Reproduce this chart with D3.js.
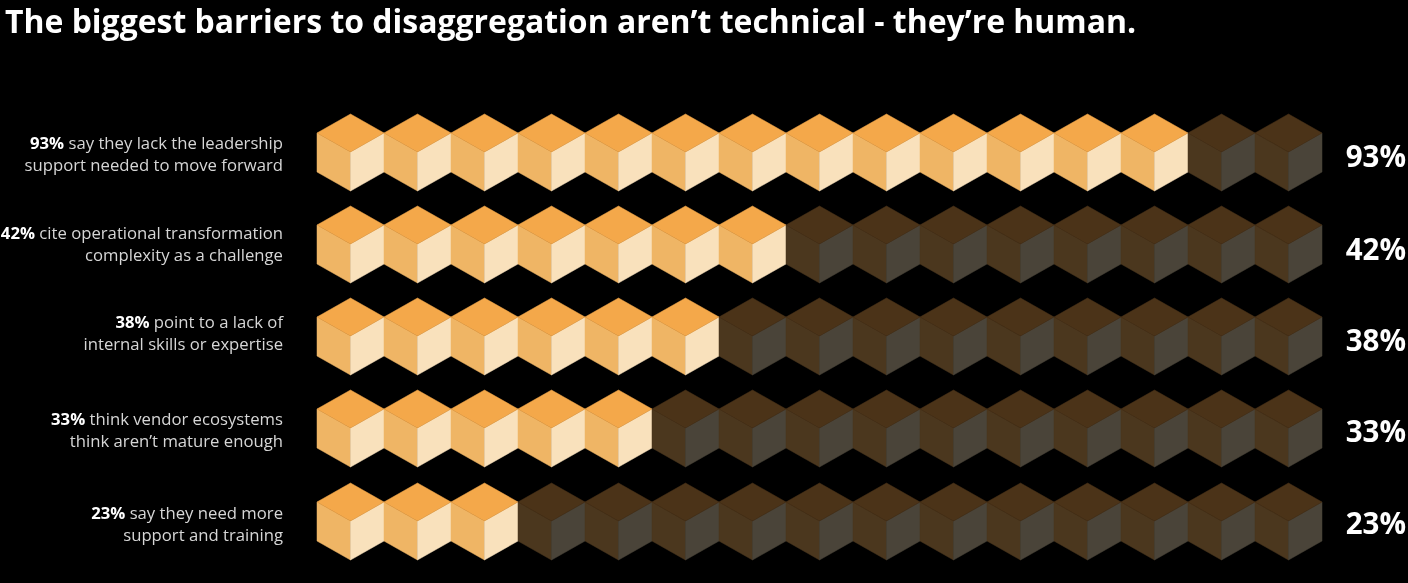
<!DOCTYPE html>
<html>
<head>
  <meta charset="utf-8">
  <script src="https://d3js.org/d3.v7.min.js"></script>
  <style>
    html, body { margin: 0; padding: 0; background: #000; overflow: hidden; }
    text { font-family: "Open Sans", sans-serif; }
    svg { filter: blur(0.45px); }
  </style>
</head>
<body>
  <script>
    // values
    var titleText = "The biggest barriers to disaggregation aren\u2019t technical - they\u2019re human.";
    var percents = [93, 42, 38, 33, 23];
    var filledCubes = [13, 7, 6, 5, 3];
    var firstLines = [" say they lack the leadership", " cite operational transformation", " point to a lack of", " think vendor ecosystems", " say they need more"];
    var secondLines = ["support needed to move forward", "complexity as a challenge", "internal skills or expertise", "think aren\u2019t mature enough", "support and training"];
    var cubeSlots = d3.range(15);

    var width = 1408, height = 583;
    var cubeH = 77, sideTop = 19, sideBottom = 38;

    // rows are not evenly spaced in the original
    var rowTops = [114, 206, 298, 390, 483];
    var labelY = [149, 239, 328, 425, 519];
    var valueY = [167, 260, 351, 442, 534];

    var svg = d3.select("body").append("svg")
      .attr("width", width)
      .attr("height", height)
      .style("display", "block");

    svg.append("rect").attr("width", width).attr("height", height).attr("fill", "#000");

    svg.append("text")
      .attr("x", 5)
      .attr("y", 33)
      .attr("fill", "#fff")
      .style("font-size", "31.95px")
      .style("font-weight", 700)
      .text(titleText);

    var x = d3.scaleBand().domain(cubeSlots).range([317, 1322]);
    var y = d3.scaleOrdinal().domain(d3.range(percents.length)).range(rowTops);
    var w = x.bandwidth();

    var lit = { top: "#f4a84a", left: "#efb565", right: "#f9e1bc" };
    var dim = { top: "#4b3318", left: "#4b371e", right: "#4a4439" };

    function facePath(face) {
      var m = w / 2;
      if (face == "top") return "M0," + sideTop + "L" + m + ",0L" + w + "," + sideTop + "L" + m + "," + sideBottom + "Z";
      if (face == "left") return "M0," + sideTop + "L" + m + "," + sideBottom + "L" + m + "," + cubeH + "L0," + (cubeH - sideTop) + "Z";
      return "M" + m + "," + sideBottom + "L" + w + "," + sideTop + "L" + w + "," + (cubeH - sideTop) + "L" + m + "," + cubeH + "Z";
    }

    var rows = svg.selectAll("g.row")
      .data(percents)
      .enter().append("g")
      .attr("class", "row");

    rows.each(function (d, i) {
      var row = d3.select(this);

      var cubes = row.selectAll("g.cube")
        .data(cubeSlots)
        .enter().append("g")
        .attr("class", "cube")
        .attr("transform", function (s) { return "translate(" + x(s) + "," + y(i) + ")"; });

      ["left", "right", "top"].forEach(function (face) {
        cubes.append("path")
          .attr("d", facePath(face))
          .attr("fill", function (s) { return (s < filledCubes[i] ? lit : dim)[face]; })
          .attr("stroke", function (s) { return (s < filledCubes[i] ? lit : dim)[face]; })
          .attr("stroke-width", 0.5)
          .attr("stroke-linejoin", "round");
      });

      var label = row.append("text")
        .attr("text-anchor", "end")
        .attr("fill", "#d6d6d6")
        .style("font-size", "16.7px");

      var line1 = label.append("tspan").attr("x", 283).attr("y", labelY[i]);
      line1.append("tspan")
        .attr("fill", "#fff")
        .style("font-weight", 700)
        .text(d + "%");
      line1.append("tspan").text(firstLines[i]);

      label.append("tspan").attr("x", 283).attr("y", labelY[i] + 22).text(secondLines[i]);

      row.append("text")
        .attr("x", 1406)
        .attr("y", valueY[i])
        .attr("text-anchor", "end")
        .attr("fill", "#fff")
        .style("font-size", "29.5px")
        .style("font-weight", 700)
        .text(d + "%");
    });
  </script>
</body>
</html>
